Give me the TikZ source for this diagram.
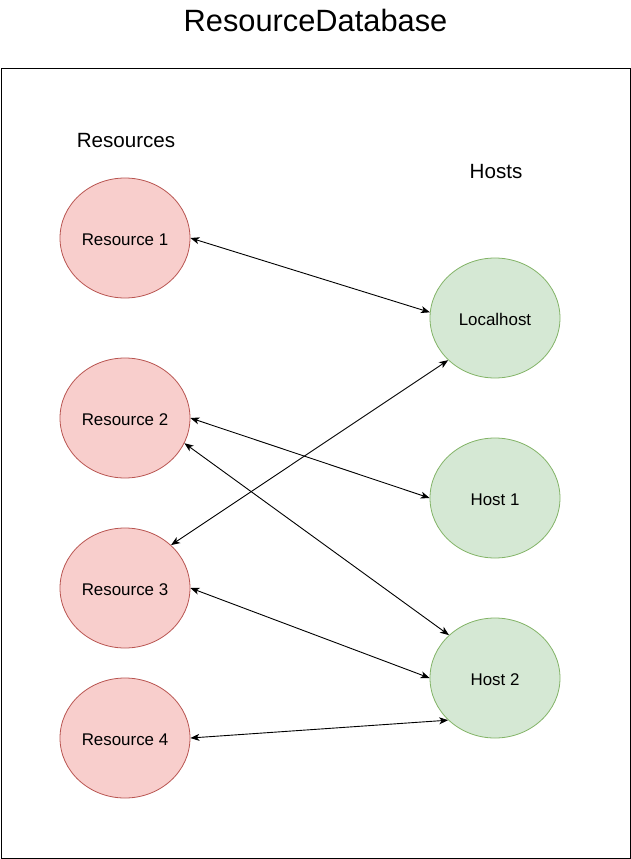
\documentclass[tikz,border=0pt]{standalone}
\usepackage{fontspec}
\setmainfont{Liberation Sans}
\usetikzlibrary{shapes.geometric,arrows.meta}
\definecolor{resfill}{HTML}{F8CECC}
\definecolor{resdraw}{HTML}{B85450}
\definecolor{hostfill}{HTML}{D5E8D4}
\definecolor{hostdraw}{HTML}{82B366}
\tikzset{
  circnode/.style={ellipse, line width=0.8pt, minimum width=130pt, minimum height=120pt, inner sep=0pt, text height=15.5pt, text depth=0pt, font=\fontsize{16.9}{18}\selectfont},
  resnode/.style={circnode, draw=resdraw, fill=resfill},
  hostnode/.style={circnode, draw=hostdraw, fill=hostfill},
  link/.style={line width=0.9pt, {Stealth[length=9pt,width=7pt,inset=2.5pt]}-{Stealth[length=9pt,width=7pt,inset=2.5pt]}},
  lbl/.style={anchor=base, inner sep=0pt, font=\fontsize{20.6}{24}\selectfont},
}
\begin{document}
\begin{tikzpicture}[x=1pt,y=-1pt]
\useasboundingbox (0,0) rectangle (631,859);
\node[draw, line width=0.9pt, minimum width=629.5pt, minimum height=789pt, anchor=north west, inner sep=0pt] (frame) at (0.5,68.5) {};
\node[anchor=base, inner sep=0pt, font=\fontsize{30.8}{34}\selectfont] (title) at (315.5,32) {ResourceDatabase};
\node[lbl] (reslbl) at (126,147.3) {Resources};
\node[lbl] (hostlbl) at (496,178.3) {Hosts};
\node[resnode] (r1) at (125,238) {Resource 1};
\node[resnode] (r2) at (125,418) {Resource 2};
\node[resnode] (r3) at (125,588) {Resource 3};
\node[resnode] (r4) at (125,738) {Resource 4};
\node[hostnode] (lh) at (495,318) {Localhost};
\node[hostnode] (h1) at (495,498) {Host 1};
\node[hostnode] (h2) at (495,678) {Host 2};
\draw[link] (r1.0) -- (lh.175);
\draw[link] (r2.0) -- (h1.180);
\draw[link] (r2.-23) -- (h2.137);
\draw[link] (r3.43) -- (lh.222);
\draw[link] (r3.0) -- (h2.180);
\draw[link] (r4.0) -- (h2.222);
\end{tikzpicture}
\end{document}
